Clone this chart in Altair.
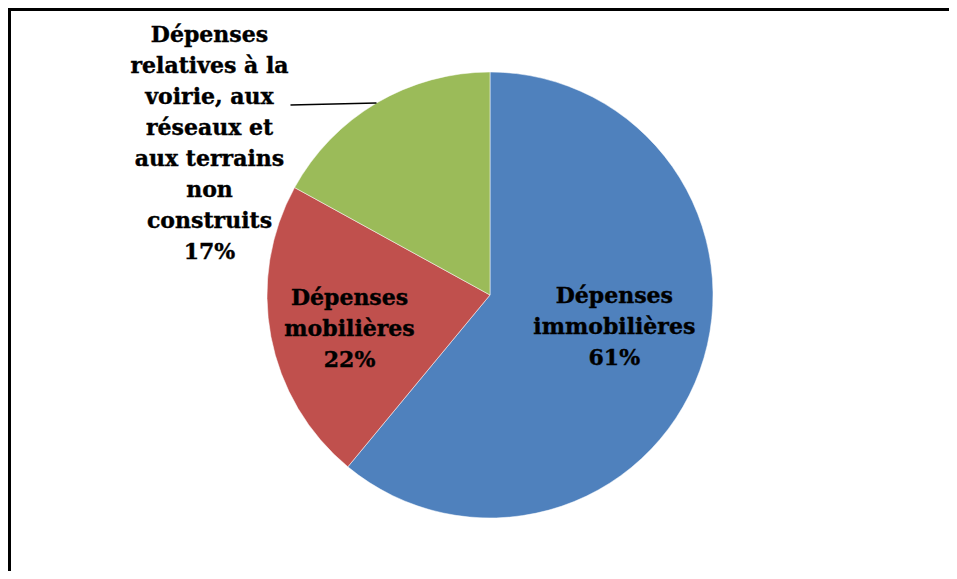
import math
import altair as alt
import pandas as pd

categories = [
    "Dépenses immobilières",
    "Dépenses mobilières",
    "Dépenses relatives à la voirie, aux réseaux et aux terrains non construits",
]
values = [61, 22, 17]
label_lines = [
    ["Dépenses", "immobilières", "61%"],
    ["Dépenses", "mobilières", "22%"],
    ["Dépenses", "relatives à la", "voirie, aux", "réseaux et", "aux terrains", "non", "construits", "17%"],
]
colors = ["#4F81BD", "#C0504D", "#9BBB59"]

W, H = 941, 563
CX, CY, R = 482, 287, 223
FONT = "DejaVu Serif"
LH = 31

df = pd.DataFrame({
    "cat": categories,
    "value": values,
    "idx": list(range(len(values))),
    "label": label_lines,
})

base = alt.Chart(df).transform_window(
    cum="sum(value)", sort=[alt.SortField("idx")]
).transform_joinaggregate(total="sum(value)").transform_calculate(
    start="(datum.cum - datum.value) / datum.total",
    end="datum.cum / datum.total",
    mid="(datum.cum - datum.value / 2) / datum.total",
)

tscale = alt.Scale(domain=[0, 1], range=[0, 2 * math.pi])

arcs = base.mark_arc(outerRadius=R, stroke="white", strokeWidth=0.5).encode(
    theta=alt.Theta("start:Q", scale=tscale, stack=None),
    theta2="end:Q",
    color=alt.Color("cat:N", scale=alt.Scale(domain=categories, range=colors), legend=None),
    x=alt.value(CX),
    y=alt.value(CY),
)

# (category, radius, dx, dy of block centre)
label_cfg = [
    (0, 130, 2, -12),
    (1, 143, 0, 7),
    (2, R, -167, 40),
]
texts = []
for i, rad, dx, dy in label_cfg:
    n = len(label_lines[i])
    texts.append(
        base.transform_filter(alt.datum.idx == i)
        .mark_text(
            radius=rad, dx=dx, dy=dy - (n - 1) / 2 * LH, font=FONT, fontWeight="bold",
            fontSize=22, lineHeight=LH, align="center", baseline="middle", color="black",
            stroke="black", strokeWidth=0.4,
        )
        .encode(
            theta=alt.Theta("mid:Q", scale=tscale, stack=None),
            text="label",
            x=alt.value(CX),
            y=alt.value(CY),
        )
    )

# leader line for the green slice, from its mid-angle point on the rim
g_mid = (sum(values[:2]) + values[2] / 2) / sum(values) * 2 * math.pi
x1 = CX + R * math.sin(g_mid)
y1 = CY - R * math.cos(g_mid)
leader_df = pd.DataFrame({"x": [x1], "y": [y1], "x2": [x1 - 86], "y2": [y1 + 2]})
leader = alt.Chart(leader_df).mark_rule(color="black", strokeWidth=1.5).encode(
    x=alt.X("x:Q", scale=None), y=alt.Y("y:Q", scale=None),
    x2="x2:Q", y2="y2:Q",
)

frame_left = alt.Chart(df).mark_rule(color="black", strokeWidth=3).encode(x=alt.value(1.5))
frame_top = alt.Chart(df).mark_rule(color="black", strokeWidth=3).encode(y=alt.value(1.5))

chart = alt.layer(arcs, *texts, leader, frame_left, frame_top).properties(
    width=W, height=H, padding=0, autosize="none", background="white"
).configure_view(stroke=None)

chart.save("out.html", embed_options={"renderer": "svg", "actions": False})
